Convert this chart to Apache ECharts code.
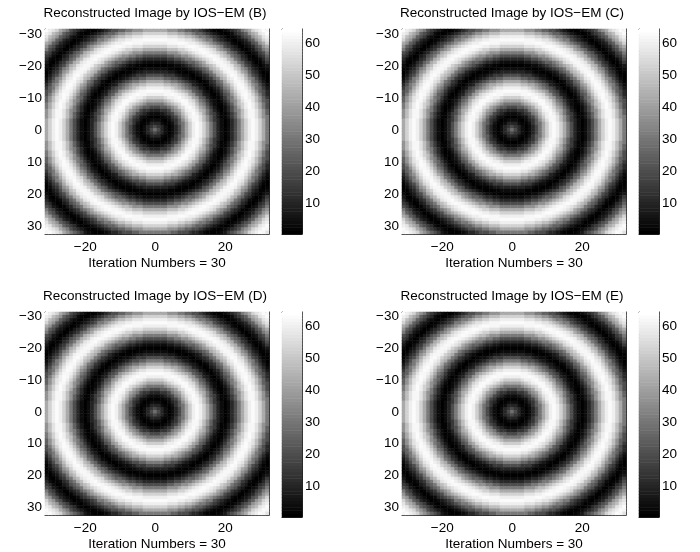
<!DOCTYPE html>
<html><head><meta charset="utf-8">
<script src="https://cdn.jsdelivr.net/npm/echarts@6/dist/echarts.min.js"></script>
<style>html,body{margin:0;padding:0;background:#fff}#c{width:700px;height:552px}</style>
</head><body><div id="c"></div>
<script>
// pixel coordinates of the 64 x 64 reconstructed image
const pixelCoords = [-31,-30,-29,-28,-27,-26,-25,-24,-23,-22,-21,-20,-19,-18,-17,-16,-15,-14,-13,-12,-11,-10,-9,-8,-7,-6,-5,-4,-3,-2,-1,0,1,2,3,4,5,6,7,8,9,10,11,12,13,14,15,16,17,18,19,20,21,22,23,24,25,26,27,28,29,30,31,32];
// radial intensity profile (colormap index 1..64), radius 0, 0.5, 1, ... 45.5
const ringProfile = [28,24,19,14,10,6,4,2,1,2,4,6,10,14,19,24,30,36,42,47,52,56,60,62,63,62,60,57,53,48,43,37,31,25,20,15,10,7,4,2,1,2,4,7,11,15,20,25,31,37,43,48,53,57,60,62,63,62,60,57,53,48,43,37,31,25,20,15,11,7,4,2,1,2,4,7,11,15,20,25,31,37,43,48,53,57,60,62,63,62,60,57];
const panelTitles = ['Reconstructed Image by IOS\u2212EM (B)','Reconstructed Image by IOS\u2212EM (C)','Reconstructed Image by IOS\u2212EM (D)','Reconstructed Image by IOS\u2212EM (E)'];
const xAxisTitle = 'Iteration Numbers = 30';
const xTickLabels = [-20,0,20];
const yTickLabels = [-30,-20,-10,0,10,20,30];
const colorbarTicks = [10,20,30,40,50,60];
const colorLevels = [1,2,3,4,5,6,7,8,9,10,11,12,13,14,15,16,17,18,19,20,21,22,23,24,25,26,27,28,29,30,31,32,33,34,35,36,37,38,39,40,41,42,43,44,45,46,47,48,49,50,51,52,53,54,55,56,57,58,59,60,61,62,63,64];

const FONT = "'Liberation Sans', Arial, Helvetica, sans-serif";
const FS = 13.5;
const fmt = v => String(v).replace('-', '\u2212');
const layouts = [
  {img:[45,29], cb:[282,29]},
  {img:[402,29], cb:[639,29]},
  {img:[45,312], cb:[282,312]},
  {img:[402,312], cb:[639,312]}
];
const IW = 224, IH = 205, CW = 20;
const line = {show:true, lineStyle:{color:'#222', width:1}};
const lab = (extra) => Object.assign({color:'#000', fontSize:FS, fontFamily:FONT}, extra);

const cats = pixelCoords.map(String);
const levelCats = colorLevels.map(String);
const imageData = [];
pixelCoords.forEach((x, xi) => {
  pixelCoords.forEach((y, yi) => {
    const r = Math.hypot(x, y);
    const idx = Math.min(Math.round(r * 2), ringProfile.length - 1);
    imageData.push([xi, yi, ringProfile[idx]]);
  });
});
const colorbarData = colorLevels.map((v, i) => [0, i, v]);

const grid = [], xAxis = [], yAxis = [], series = [], title = [];
layouts.forEach((L, p) => {
  const gi = grid.length;
  grid.push({left:L.img[0], top:L.img[1], width:IW, height:IH});
  grid.push({left:L.cb[0], top:L.cb[1], width:CW, height:IH});
  const xInt = (i, v) => xTickLabels.includes(+v);
  const yInt = (i, v) => yTickLabels.includes(+v);
  const cInt = (i, v) => colorbarTicks.includes(+v);
  const xb = xAxis.length;
  xAxis.push({type:'category', gridIndex:gi, data:cats, position:'bottom', axisLine:line,
    axisTick:{show:true, inside:true, alignWithLabel:true, length:3, interval:xInt, lineStyle:{color:'#222'}},
    axisLabel:lab({interval:xInt, formatter:fmt, margin:6}),
    name:xAxisTitle, nameLocation:'middle', nameGap:22, nameTextStyle:lab({})});
  xAxis.push({type:'category', gridIndex:gi, data:cats, position:'top', axisLine:line,
    axisTick:{show:true, inside:true, alignWithLabel:true, length:3, interval:xInt, lineStyle:{color:'#222'}},
    axisLabel:{show:false}});
  const yb = yAxis.length;
  yAxis.push({type:'category', gridIndex:gi, data:cats, inverse:true, position:'left', axisLine:line,
    axisTick:{show:true, inside:true, alignWithLabel:true, length:3, interval:yInt, lineStyle:{color:'#222'}},
    axisLabel:lab({interval:yInt, formatter:fmt, margin:3})});
  yAxis.push({type:'category', gridIndex:gi, data:cats, inverse:true, position:'right', axisLine:line,
    axisTick:{show:true, inside:true, alignWithLabel:true, length:3, interval:yInt, lineStyle:{color:'#222'}},
    axisLabel:{show:false}});
  // colorbar axes
  const cxb = xAxis.length;
  xAxis.push({type:'category', gridIndex:gi+1, data:['c'], position:'bottom', axisLine:line, axisTick:{show:false}, axisLabel:{show:false}});
  xAxis.push({type:'category', gridIndex:gi+1, data:['c'], position:'top', axisLine:line, axisTick:{show:false}, axisLabel:{show:false}});
  const cyb = yAxis.length;
  yAxis.push({type:'category', gridIndex:gi+1, data:levelCats, position:'right', axisLine:line,
    axisTick:{show:true, inside:true, alignWithLabel:true, length:3, interval:cInt, lineStyle:{color:'#222'}},
    axisLabel:lab({interval:cInt, margin:3})});
  yAxis.push({type:'category', gridIndex:gi+1, data:levelCats, position:'left', axisLine:line,
    axisTick:{show:true, inside:true, alignWithLabel:true, length:3, interval:cInt, lineStyle:{color:'#222'}},
    axisLabel:{show:false}});

  series.push({type:'heatmap', xAxisIndex:xb, yAxisIndex:yb, data:imageData, progressive:0, silent:true, itemStyle:{borderWidth:0}});
  series.push({type:'heatmap', xAxisIndex:cxb, yAxisIndex:cyb, data:colorbarData, progressive:0, silent:true, itemStyle:{borderWidth:0}});

  title.push({text:panelTitles[p], left:L.img[0] + IW/2 - 2, top:L.img[1] - 16, textAlign:'center', textVerticalAlign:'middle', padding:0,
    textStyle:{fontSize:FS, fontWeight:'normal', color:'#000', fontFamily:FONT}});
});

const chart = echarts.init(document.getElementById('c'), null, {renderer:'canvas'});
chart.setOption({
  animation:false,
  backgroundColor:'#fff',
  title, grid, xAxis, yAxis, series,
  visualMap:{type:'continuous', show:false, min:1, max:64, seriesIndex:series.map((s,i)=>i), inRange:{color:['#000000','#ffffff']}}
});
</script>
</body></html>
